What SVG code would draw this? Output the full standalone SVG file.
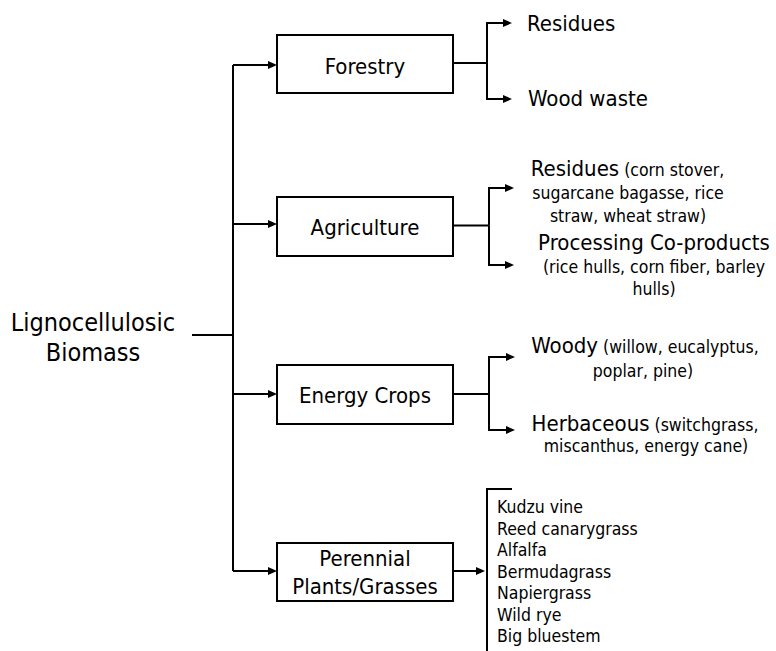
<svg xmlns="http://www.w3.org/2000/svg" width="776" height="651" viewBox="0 0 776 651">
<style>
text{font-family:'DejaVu Sans Condensed','DejaVu Sans',sans-serif;font-stretch:condensed;fill:#000}
.big{font-size:22px}
.root{font-size:25px}
.sm{font-size:17.5px}
.box{fill:#fff;stroke:#000;stroke-width:2}
.c{fill:none;stroke:#000;stroke-width:2}
.a{marker-end:url(#arr)}
</style>
<defs>
<marker id="arr" markerUnits="userSpaceOnUse" markerWidth="10" markerHeight="8" refX="5" refY="4" orient="auto">
<path d="M0,0 L9,4 L0,8 Z" fill="#000"/>
</marker>
</defs>
<rect width="776" height="651" fill="#fff"/>
<g id="connectors">
<path class="c" d="M192,335 H233"/>
<path class="c" d="M233,65 V571"/>
<path class="c a" d="M233,65 H273"/>
<path class="c a" d="M233,224 H273"/>
<path class="c a" d="M233,394 H273"/>
<path class="c a" d="M233,571 H273"/>
<path class="c" d="M453,63 H487"/>
<path class="c a" d="M487,63 V23 H508"/>
<path class="c a" d="M487,63 V99 H508"/>
<path class="c" d="M453,225.5 H489"/>
<path class="c a" d="M489,225.5 V188 H510"/>
<path class="c a" d="M489,225.5 V265 H510"/>
<path class="c" d="M453,394 H489"/>
<path class="c a" d="M489,394 V357 H511"/>
<path class="c a" d="M489,394 V430 H511"/>
<path class="c a" d="M453,571 H481"/>
<path class="c" d="M512,489 H487 V651"/>
</g>
<g id="root">
<text class="root" x="93" y="331" text-anchor="middle">Lignocellulosic</text>
<text class="root" x="93" y="361" text-anchor="middle">Biomass</text>
</g>
<g id="forestry">
<rect class="box" x="277" y="35" width="176" height="58"/>
<text class="big" x="365" y="73.5" text-anchor="middle">Forestry</text>
</g>
<g id="agriculture">
<rect class="box" x="277" y="197" width="176" height="59"/>
<text class="big" x="365" y="235" text-anchor="middle">Agriculture</text>
</g>
<g id="energy-crops">
<rect class="box" x="277" y="365" width="176" height="59"/>
<text class="big" x="365" y="403" text-anchor="middle">Energy Crops</text>
</g>
<g id="perennial">
<rect class="box" x="277" y="543" width="176" height="58"/>
<text class="big" x="365" y="566" text-anchor="middle">Perennial</text>
<text class="big" x="365" y="594" text-anchor="middle">Plants/Grasses</text>
</g>
<g id="forestry-residues">
<text class="big" x="527" y="31">Residues</text>
</g>
<g id="wood-waste">
<text class="big" x="528" y="106">Wood waste</text>
</g>
<g id="agri-residues">
<text x="627.5" y="176" text-anchor="middle"><tspan class="big">Residues</tspan><tspan class="sm"> (corn stover,</tspan></text>
<text class="sm" x="628" y="199" text-anchor="middle">sugarcane bagasse, rice</text>
<text class="sm" x="628" y="221.5" text-anchor="middle">straw, wheat straw)</text>
</g>
<g id="processing">
<text class="big" x="654" y="250" text-anchor="middle">Processing Co-products</text>
<text class="sm" x="654" y="273" text-anchor="middle">(rice hulls, corn fiber, barley</text>
<text class="sm" x="654" y="295" text-anchor="middle">hulls)</text>
</g>
<g id="woody">
<text x="645" y="352.5" text-anchor="middle"><tspan class="big">Woody</tspan><tspan class="sm"> (willow, eucalyptus,</tspan></text>
<text class="sm" x="643" y="376.5" text-anchor="middle">poplar, pine)</text>
</g>
<g id="herbaceous">
<text x="645" y="430.5" text-anchor="middle"><tspan class="big">Herbaceous</tspan><tspan class="sm"> (switchgrass,</tspan></text>
<text class="sm" x="646" y="452" text-anchor="middle">miscanthus, energy cane)</text>
</g>
<g id="perennial-list">
<text class="sm" x="497" y="513">Kudzu vine</text>
<text class="sm" x="497" y="534.5">Reed canarygrass</text>
<text class="sm" x="497" y="556">Alfalfa</text>
<text class="sm" x="497" y="577.5">Bermudagrass</text>
<text class="sm" x="497" y="599">Napiergrass</text>
<text class="sm" x="497" y="620.5">Wild rye</text>
<text class="sm" x="497" y="642">Big bluestem</text>
</g>
</svg>
